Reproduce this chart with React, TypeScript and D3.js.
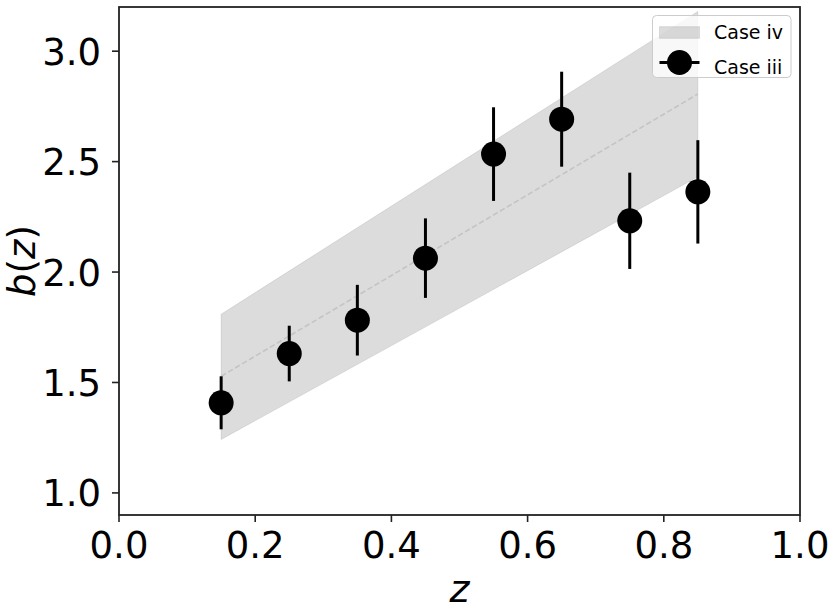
import * as d3 from 'd3';

// Case iii measurements
const zValues = [0.15, 0.25, 0.35, 0.45, 0.55, 0.65, 0.75, 0.85];
const bValues = [1.408, 1.631, 1.782, 2.063, 2.534, 2.692, 2.232, 2.363];
const bErrors = [0.12, 0.126, 0.16, 0.18, 0.212, 0.215, 0.218, 0.234];

// Case iv band
const bandZ = [0.15, 0.85];
const bandMid = [1.528, 2.806];
const bandLow = [1.242, 2.431];
const bandHigh = [1.809, 3.18];

const xTicks = [0, 0.2, 0.4, 0.6, 0.8, 1.0];
const yTicks = [1.0, 1.5, 2.0, 2.5, 3.0];
const legendLabels = ['Case iv', 'Case iii'];

const FONT = 'DejaVu Sans, sans-serif';

export default function App() {
  const width = 831;
  const height = 610;
  const margin = { top: 7, right: 31, bottom: 95, left: 119 };
  const x0 = margin.left;
  const x1 = width - margin.right;
  const y0 = height - margin.bottom;
  const y1 = margin.top;

  const x = d3.scaleLinear().domain([0, 1]).range([x0, x1]);
  const y = d3.scaleLinear().domain([0.9, 3.2]).range([y0, y1]);

  const bandData = bandZ.map((z, i) => ({ z, lo: bandLow[i], hi: bandHigh[i], mid: bandMid[i] }));
  const area = d3
    .area<{ z: number; lo: number; hi: number }>()
    .x((d) => x(d.z))
    .y0((d) => y(d.lo))
    .y1((d) => y(d.hi));
  const midLine = d3
    .line<{ z: number; mid: number }>()
    .x((d) => x(d.z))
    .y((d) => y(d.mid));

  const axisColor = '#222';

  return (
    <svg
      width={width}
      height={height}
      style={{ position: 'absolute', left: 0, top: 0, background: '#fff' }}
      fontFamily={FONT}
    >
      <rect width={width} height={height} fill="#fff" />
      {/* band */}
      <path d={area(bandData) ?? ''} fill="#808080" fillOpacity={0.28} stroke="#808080" strokeOpacity={0.2} strokeWidth={1} />
      <path d={midLine(bandData) ?? ''} fill="none" stroke="#c4c4c4" strokeWidth={1.6} strokeDasharray="5.5 2.6" />

      {/* error bars and points */}
      {zValues.map((z, i) => (
        <g key={z}>
          <line
            x1={x(z)}
            x2={x(z)}
            y1={y(bValues[i] - bErrors[i])}
            y2={y(bValues[i] + bErrors[i])}
            stroke="#000"
            strokeWidth={3}
          />
          <circle cx={x(z)} cy={y(bValues[i])} r={12.5} fill="#000" />
        </g>
      ))}

      {/* spines */}
      <rect x={x0} y={y1} width={x1 - x0} height={y0 - y1} fill="none" stroke={axisColor} strokeWidth={1.8} />

      {/* x ticks */}
      {xTicks.map((t) => (
        <g key={`x${t}`}>
          <line x1={x(t)} x2={x(t)} y1={y0} y2={y0 + 7} stroke={axisColor} strokeWidth={1.6} />
          <text x={x(t)} y={y0 + 43} textAnchor="middle" fontSize={37} fill="#000">
            {t.toFixed(1)}
          </text>
        </g>
      ))}

      {/* y ticks */}
      {yTicks.map((t) => (
        <g key={`y${t}`}>
          <line x1={x0 - 7} x2={x0} y1={y(t)} y2={y(t)} stroke={axisColor} strokeWidth={1.6} />
          <text x={x0 - 18} y={y(t) + 13.5} textAnchor="end" fontSize={37} fill="#000">
            {t.toFixed(1)}
          </text>
        </g>
      ))}

      {/* axis labels */}
      <text x={(x0 + x1) / 2} y={602} textAnchor="middle" fontSize={38} fontStyle="italic" fill="#000">
        z
      </text>
      <text
        transform={`translate(35,${(y0 + y1) / 2}) rotate(-90)`}
        textAnchor="middle"
        fontSize={37}
        fill="#000"
      >
        <tspan fontStyle="italic">b</tspan>
        <tspan>(</tspan>
        <tspan fontStyle="italic">z</tspan>
        <tspan>)</tspan>
      </text>

      {/* legend */}
      <g>
        <rect x={652.5} y={15.5} width={138.5} height={62} rx={4} fill="#fff" fillOpacity={0.8} stroke="#cccccc" strokeWidth={1} />
        <rect x={659.5} y={26.7} width={40} height={11.6} fill="#808080" fillOpacity={0.28} stroke="#808080" strokeOpacity={0.2} />
        <text x={714} y={38.5} fontSize={19} fill="#000">
          {legendLabels[0]}
        </text>
        <line x1={659.5} x2={699.5} y1={62.5} y2={62.5} stroke="#000" strokeWidth={3} />
        <circle cx={679.5} cy={62.5} r={12.5} fill="#000" />
        <text x={714} y={73.5} fontSize={19} fill="#000">
          {legendLabels[1]}
        </text>
      </g>
    </svg>
  );
}
